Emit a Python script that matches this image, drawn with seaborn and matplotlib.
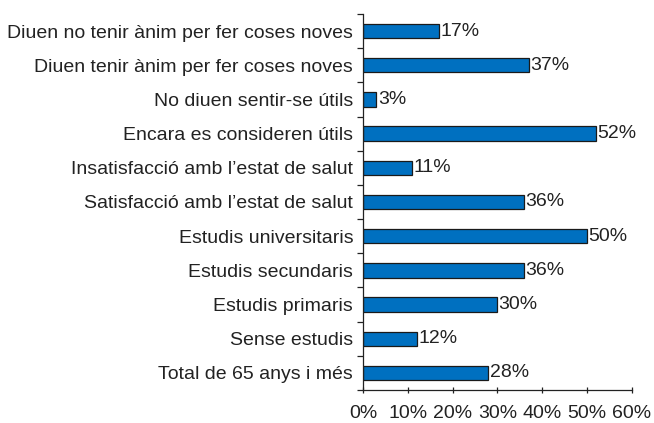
import numpy as np
import pandas as pd
import matplotlib
matplotlib.use('Agg')
import matplotlib.pyplot as plt
import seaborn as sns

# Categories (top to bottom) and percentages
categories = [
    'Diuen no tenir ànim per fer coses noves',
    'Diuen tenir ànim per fer coses noves',
    'No diuen sentir-se útils',
    'Encara es consideren útils',
    'Insatisfacció amb l\u2019estat de salut',
    'Satisfacció amb l\u2019estat de salut',
    'Estudis universitaris',
    'Estudis secundaris',
    'Estudis primaris',
    'Sense estudis',
    'Total de 65 anys i més',
]
values = [17, 37, 3, 52, 11, 36, 50, 36, 30, 12, 28]
x_ticks = [0, 10, 20, 30, 40, 50, 60]

df = pd.DataFrame({'cat': categories, 'val': values})

sns.set_style('white')
plt.rcParams['font.family'] = ['Liberation Sans', 'DejaVu Sans']

fig = plt.figure(figsize=(6.54, 4.23), dpi=100)
ax = fig.add_axes([0.555, 0.078, 0.411, 0.889])

sns.barplot(data=df, x='val', y='cat', orient='h', color='#0070C0',
            saturation=1, width=0.42, edgecolor='#1a1a1a', linewidth=0.9, ax=ax)

fs = 14
for i, v in enumerate(values):
    ax.text(v + 0.3, i, f'{v}%', va='center', ha='left', fontsize=fs, color='#222222')

ax.set_xlim(0, 60)
ax.set_ylim(len(categories) - 0.5, -0.5)
ax.set_xticks(x_ticks)
ax.set_xticklabels([f'{t}%' for t in x_ticks], fontsize=fs, color='#222222')
ax.set_yticks(range(len(categories)))
ax.set_yticklabels(categories, fontsize=fs, color='#222222')
ax.tick_params(axis='y', which='major', left=True, length=0, pad=7)
ax.tick_params(axis='x', bottom=True, length=5, direction='inout', width=0.9, pad=8, color='#222222')
# minor ticks on y at category boundaries
ax.set_yticks(np.arange(-0.5, len(categories), 1), minor=True)
ax.tick_params(axis='y', which='minor', left=True, length=4, width=0.9, color='#222222')
ax.set_xlabel('')
ax.set_ylabel('')
for s in ['top', 'right']:
    ax.spines[s].set_visible(False)
for s in ['left', 'bottom']:
    ax.spines[s].set_color('#222222')
    ax.spines[s].set_linewidth(0.9)

fig.savefig('out.png', dpi=100)
